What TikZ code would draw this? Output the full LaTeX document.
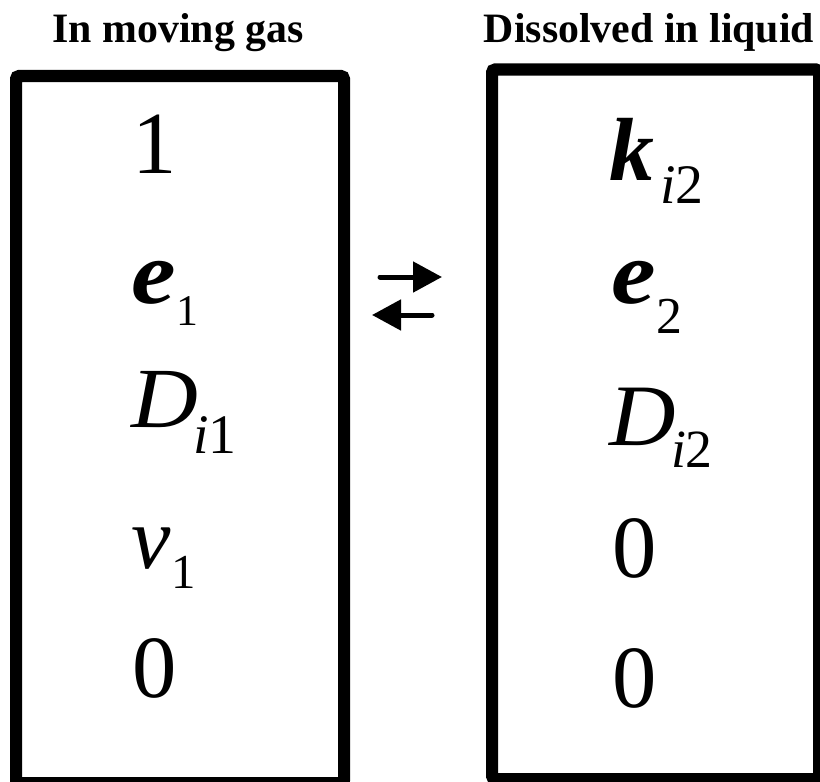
\documentclass[tikz,border=0pt]{standalone}
\usepackage{fontspec}
\setmainfont{Liberation Serif}
\usetikzlibrary{arrows.meta}
\tikzset{
  box/.style={line width=12bp, rounded corners=3bp},
  txt/.style={anchor=base west, inner sep=0pt, outer sep=0pt},
  title/.style={anchor=base, inner sep=0pt, font=\bfseries\fontsize{42}{42}\selectfont},
  arr/.style={line width=5bp, line cap=round, -{Triangle[length=29bp,width=30bp]}},
}
\newcommand{\fs}[1]{\fontsize{#1}{#1}\selectfont}
\begin{document}
\begin{tikzpicture}[x=1bp,y=-1bp]
\useasboundingbox (0,0) rectangle (820,782);
% titles
\node[title] (t1) at (178,43) {In moving gas};
\node[title] (t2) at (649,43) {Dissolved in liquid};
% boxes
\draw[box] (16,76) rectangle (344,783);
\draw[box] (492,69.5) rectangle (819,779);
% left box
\node[txt, font=\fs{89}] (l1) at (132,173) {1};
\node[txt, font=\fs{90}] (le) at (131,303) {\scalebox{1.12}[1]{\textbf{\textit{e}}}};
\node[txt, font=\fs{44}] (les) at (176,325) {1};
\node[txt, font=\fs{86}] (lD) at (131,427) {\scalebox{1.08}[1]{\textit{D}}};
\node[txt, font=\fs{56}] (lDs) at (193,453) {\textit{i}1};
\node[txt, font=\fs{89}] (lv) at (131,568) {\textit{v}};
\node[txt, font=\fs{49}] (lvs) at (171,588) {1};
\node[txt, font=\fs{89}] (l0) at (132,697) {0};
% right box
\node[txt, font=\fs{90}] (rk) at (609,180) {\textbf{\textit{k}}};
\node[txt, font=\fs{56}] (rks) at (660,203) {\textit{i}2};
\node[txt, font=\fs{90}] (re) at (611,303) {\scalebox{1.12}[1]{\textbf{\textit{e}}}};
\node[txt, font=\fs{52}] (res) at (656,333) {2};
\node[txt, font=\fs{88}] (rD) at (609,445) {\scalebox{1.05}[1]{\textit{D}}};
\node[txt, font=\fs{54}] (rDs) at (671,467) {\textit{i}2};
\node[txt, font=\fs{89}] (r01) at (612,577) {0};
\node[txt, font=\fs{89}] (r02) at (612,707) {0};
% exchange arrows
\coordinate (a1s) at (380,277);
\coordinate (a1e) at (442,277);
\coordinate (a2s) at (432,315);
\coordinate (a2e) at (372,315);
\draw[arr] (a1s) -- (a1e);
\draw[arr] (a2s) -- (a2e);
\end{tikzpicture}
\end{document}
